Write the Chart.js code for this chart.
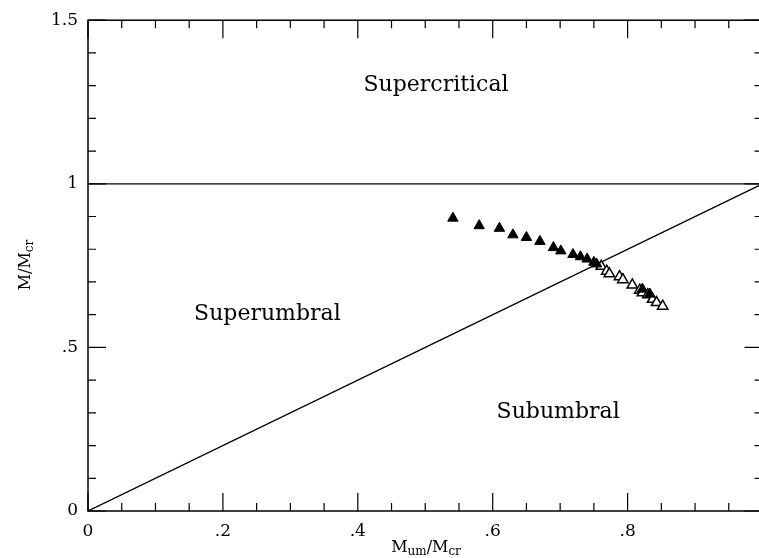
<!DOCTYPE html>
<html>
<head>
<meta charset="utf-8">
<script src="https://cdn.jsdelivr.net/npm/chart.js@4/dist/chart.umd.min.js"></script>
<style>
  html, body { margin: 0; padding: 0; background: #fff; overflow: hidden; }
  #wrap { width: 759px; height: 558px; overflow: hidden; }
</style>
</head>
<body>
<div id="wrap"><canvas id="chart" width="770" height="558"></canvas></div>
<script>
// reference lines
const critX = [0, 1];
const critY = [1, 1];
const umbX = [0, 1];
const umbY = [0, 1];

// filled triangles
const filledX = [0.541, 0.580, 0.610, 0.630, 0.650, 0.670, 0.690, 0.701, 0.719, 0.730, 0.740, 0.750, 0.754, 0.822, 0.833];
const filledY = [0.895, 0.872, 0.864, 0.844, 0.836, 0.824, 0.805, 0.795, 0.784, 0.777, 0.770, 0.760, 0.755, 0.678, 0.663];

// open triangles
const openX = [0.761, 0.769, 0.773, 0.788, 0.793, 0.807, 0.818, 0.822, 0.830, 0.837, 0.843, 0.852];
const openY = [0.748, 0.733, 0.725, 0.716, 0.707, 0.691, 0.675, 0.667, 0.661, 0.647, 0.637, 0.626];

// ticks
const xTickLabels = [0, 0.2, 0.4, 0.6, 0.8];
const yTickLabels = [0, 0.5, 1, 1.5];

const regionLabels = ['Supercritical', 'Superumbral', 'Subumbral'];

const serif = '"DejaVu Serif", "Liberation Serif", serif';

function pts(xs, ys) {
    return xs.map((x, i) => ({ x: x, y: ys[i] }));
}

function fmt(v) {
    return String(+v.toFixed(2)).replace(/^0\./, '.');
}

const frame = {
    id: 'frame',
    afterDraw(chart) {
        const ctx = chart.ctx;
        const a = chart.chartArea;
        const xs = chart.scales.x, ys = chart.scales.y;
        ctx.save();
        ctx.strokeStyle = '#000';
        ctx.lineWidth = 1.5;
        ctx.strokeRect(a.left, a.top, a.right - a.left, a.bottom - a.top);

        ctx.lineWidth = 1.2;
        ctx.beginPath();
        for (let i = 0; i <= 20; i++) {
            const v = i * 0.05;
            const p = xs.getPixelForValue(v);
            const len = i % 4 === 0 ? 18 : 8;
            ctx.moveTo(p, a.bottom); ctx.lineTo(p, a.bottom - len);
            ctx.moveTo(p, a.top); ctx.lineTo(p, a.top + len);
        }
        for (let i = 0; i <= 15; i++) {
            const v = i * 0.1;
            const p = ys.getPixelForValue(v);
            const len = i % 5 === 0 ? 18 : 8;
            ctx.moveTo(a.left, p); ctx.lineTo(a.left + len, p);
            ctx.moveTo(a.right, p); ctx.lineTo(a.right - len, p);
        }
        ctx.stroke();

        // region names
        ctx.fillStyle = '#000';
        ctx.font = '22px ' + serif;
        ctx.textAlign = 'center';
        ctx.textBaseline = 'middle';
        ctx.fillText(regionLabels[0], xs.getPixelForValue(0.516), ys.getPixelForValue(1.302));
        ctx.fillText(regionLabels[1], xs.getPixelForValue(0.266), ys.getPixelForValue(0.602));
        ctx.fillText(regionLabels[2], xs.getPixelForValue(0.697), ys.getPixelForValue(0.302));

        // axis titles with subscripts
        function sub(parts, x, y) {
            ctx.textAlign = 'left';
            ctx.textBaseline = 'alphabetic';
            let w = 0;
            parts.forEach(p => {
                ctx.font = (p[1] ? '12px ' : '16px ') + serif;
                w += ctx.measureText(p[0]).width;
            });
            let cx = x - w / 2;
            parts.forEach(p => {
                ctx.font = (p[1] ? '12px ' : '16px ') + serif;
                ctx.fillText(p[0], cx, y + (p[1] ? 3 : 0));
                cx += ctx.measureText(p[0]).width;
            });
        }
        sub([['M', 0], ['um', 1], ['/M', 0], ['cr', 1]], 426, 552);
        ctx.save();
        ctx.translate(30, 265);
        ctx.rotate(-Math.PI / 2);
        sub([['M/M', 0], ['cr', 1]], 0, 0);
        ctx.restore();
        ctx.restore();
    }
};

new Chart(document.getElementById('chart'), {
    type: 'scatter',
    data: {
        datasets: [
            {
                data: pts(filledX, filledY),
                pointStyle: 'triangle',
                pointRadius: 6,
                pointBackgroundColor: '#000',
                pointBorderColor: '#000',
                pointBorderWidth: 1
            },
            {
                data: pts(openX, openY),
                pointStyle: 'triangle',
                pointRadius: 6,
                pointBackgroundColor: '#fff',
                pointBorderColor: '#000',
                pointBorderWidth: 1.5
            },
            {
                data: pts(critX, critY),
                showLine: true,
                pointRadius: 0,
                borderColor: '#000',
                borderWidth: 1.3
            },
            {
                data: pts(umbX, umbY),
                showLine: true,
                pointRadius: 0,
                borderColor: '#000',
                borderWidth: 1.3
            }
        ]
    },
    options: {
        responsive: false,
        animation: false,
        layout: { padding: { top: 18, right: 0, left: 0, bottom: 0 } },
        plugins: { legend: { display: false }, tooltip: { enabled: false } },
        scales: {
            x: {
                type: 'linear',
                min: 0, max: 1,
                grid: { display: false, drawTicks: false },
                border: { display: false },
                afterBuildTicks: s => { s.ticks = xTickLabels.map(v => ({ value: v })); },
                afterFit: s => { s.height = 47; },
                ticks: { color: '#000', padding: 10, font: { family: serif, size: 17 }, callback: v => fmt(v) }
            },
            y: {
                type: 'linear',
                min: 0, max: 1.5,
                grid: { display: false, drawTicks: false },
                border: { display: false },
                afterBuildTicks: s => { s.ticks = yTickLabels.map(v => ({ value: v })); },
                afterFit: s => { s.width = 88; },
                ticks: { color: '#000', padding: 10, font: { family: serif, size: 17 }, callback: v => fmt(v) }
            }
        }
    },
    plugins: [frame]
});
</script>
</body>
</html>
